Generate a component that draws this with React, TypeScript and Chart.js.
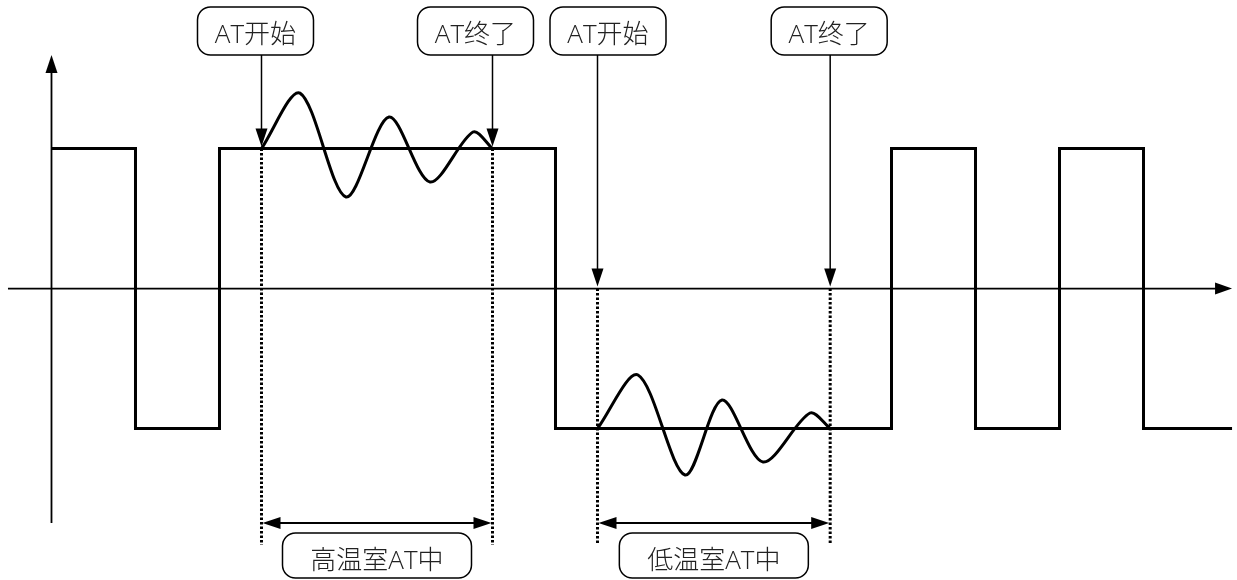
import React, { useEffect, useRef } from "react";
import { Chart, registerables } from "chart.js";

Chart.register(...registerables);

// time axis (one unit = one half-period of the switching wave), level axis (+1 high, -1 low)
const squareT = [0, 1, 2, 6, 10, 11, 12, 13, 14.054];
const squareV = [1, -1, 1, -1, 1, -1, 1, -1, -1];

const highOscT = [2.5, 2.958, 3.506, 4.018, 4.506, 5.018, 5.25];
const highOscV = [1, 1.396, 0.654, 1.225, 0.761, 1.118, 1];

const lowOscT = [6.5, 6.982, 7.542, 7.982, 8.47, 9.03, 9.27];
const lowOscV = [-1, -0.618, -1.332, -0.796, -1.239, -0.889, -1];

const markerT = [2.5, 5.25, 6.5, 9.27];
const markerLevel = [1, 1, 0, 0];
const markerLabels = ["AT开始", "AT终了", "AT开始", "AT终了"];

const spanStart = [2.5, 6.5];
const spanEnd = [5.25, 9.27];
const spanLabels = ["高温室AT中", "低温室AT中"];

const xAxisRange = [-0.518, 14.054];
const yAxisRange = [-1.675, 1.668];
const spanArrowLevel = -1.675;
const dottedBottom = -1.832;

const X_MIN = -0.613;
const X_MAX = 14.113;
const Y_MIN = -2.082;
const Y_MAX = 2.061;

const FONT = '300 26px "Open Sans", "Noto Sans CJK JP", "Noto Sans CJK SC", sans-serif';

function head(ctx: CanvasRenderingContext2D, tx: number, ty: number, ang: number, len: number, hw: number) {
  const bx = tx - len * Math.cos(ang);
  const by = ty - len * Math.sin(ang);
  const nx = -Math.sin(ang) * hw;
  const ny = Math.cos(ang) * hw;
  ctx.beginPath();
  ctx.moveTo(tx, ty);
  ctx.lineTo(bx + nx, by + ny);
  ctx.lineTo(bx - nx, by - ny);
  ctx.closePath();
  ctx.fill();
}

function box(ctx: CanvasRenderingContext2D, left: number, top: number, w: number, h: number, r: number, text: string, baseline: number) {
  ctx.beginPath();
  (ctx as any).roundRect(left, top, w, h, r);
  ctx.fillStyle = "#fff";
  ctx.fill();
  ctx.lineWidth = 1.5;
  ctx.strokeStyle = "#000";
  ctx.stroke();
  ctx.fillStyle = "#222";
  ctx.font = FONT;
  ctx.textAlign = "center";
  ctx.textBaseline = "alphabetic";
  ctx.fillText(text, left + w / 2, baseline);
}

const overlay = {
  id: "overlay",
  afterDatasetsDraw(chart: any) {
    const ctx: CanvasRenderingContext2D = chart.ctx;
    const px = (t: number) => chart.scales.x.getPixelForValue(t);
    const py = (v: number) => chart.scales.y.getPixelForValue(v);
    ctx.save();
    ctx.fillStyle = "#000";
    ctx.strokeStyle = "#000";

    // axis arrowheads
    head(ctx, px(xAxisRange[1]), py(0), 0, 17, 6);
    head(ctx, px(0), py(yAxisRange[1]), -Math.PI / 2, 18, 6);

    // marker boxes and arrows
    const boxOffsets = [-6, -17, 10.5, -1];
    markerT.forEach((t, i) => {
      const ax = px(t);
      const tipY = py(markerLevel[i]) - 2;
      ctx.lineWidth = 1.5;
      ctx.strokeStyle = "#000";
      ctx.beginPath();
      ctx.moveTo(ax, 55);
      ctx.lineTo(ax, tipY - 14);
      ctx.stroke();
      ctx.fillStyle = "#000";
      head(ctx, ax, tipY, Math.PI / 2, 18, 6);
      const w = 116;
      const cx = ax + boxOffsets[i];
      box(ctx, cx - w / 2, 7, w, 48, 13, markerLabels[i], 43);
    });

    // span double arrows and labels
    spanStart.forEach((s, i) => {
      const x1 = px(s);
      const x2 = px(spanEnd[i]);
      const yy = py(spanArrowLevel);
      ctx.lineWidth = 2;
      ctx.strokeStyle = "#000";
      ctx.beginPath();
      ctx.moveTo(x1 + 10, yy);
      ctx.lineTo(x2 - 10, yy);
      ctx.stroke();
      ctx.fillStyle = "#000";
      head(ctx, x1 + 1, yy, Math.PI, 18, 6);
      head(ctx, x2 - 1, yy, 0, 18, 6);
      const w = 189;
      const cx = (x1 + x2) / 2;
      box(ctx, cx - w / 2, 533, w, 45, 13, spanLabels[i], 569);
    });

    ctx.restore();
  },
};

const pts = (ts: number[], vs: number[]) => ts.map((t, i) => ({ x: t, y: vs[i] }));

export default function App() {
  const ref = useRef<HTMLCanvasElement | null>(null);
  useEffect(() => {
    document.body.style.margin = "0";
    const canvas = ref.current;
    if (!canvas) return;
    const dotted = (t: number, top: number) => ({
      data: [
        { x: t, y: top },
        { x: t, y: dottedBottom },
      ],
      borderColor: "#000",
      borderWidth: 3,
      borderDash: [2.5, 2],
      pointRadius: 0,
      fill: false,
    });
    const chart = new Chart(canvas, {
      type: "line",
      data: {
        datasets: [
          {
            label: "switch",
            data: pts(squareT, squareV),
            stepped: true,
            borderColor: "#000",
            borderWidth: 3,
            pointRadius: 0,
            fill: false,
          },
          {
            label: "high AT",
            data: pts(highOscT, highOscV),
            tension: 0.3,
            borderColor: "#000",
            borderWidth: 3,
            pointRadius: 0,
            fill: false,
          },
          {
            label: "low AT",
            data: pts(lowOscT, lowOscV),
            tension: 0.3,
            borderColor: "#000",
            borderWidth: 3,
            pointRadius: 0,
            fill: false,
          },
          {
            label: "x axis",
            data: [
              { x: xAxisRange[0], y: 0 },
              { x: xAxisRange[1] - 0.15, y: 0 },
            ],
            borderColor: "#000",
            borderWidth: 1.8,
            pointRadius: 0,
            fill: false,
          },
          {
            label: "y axis",
            data: [
              { x: 0, y: yAxisRange[0] },
              { x: 0, y: yAxisRange[1] - 0.1 },
            ],
            borderColor: "#000",
            borderWidth: 1.8,
            pointRadius: 0,
            fill: false,
          },
          dotted(markerT[0], markerLevel[0]),
          dotted(markerT[1], markerLevel[1]),
          dotted(markerT[2], markerLevel[2]),
          dotted(markerT[3], markerLevel[3]),
        ] as any,
      },
      options: {
        animation: false,
        responsive: false,
        layout: { padding: 0 },
        plugins: { legend: { display: false }, tooltip: { enabled: false } },
        scales: {
          x: { type: "linear", min: X_MIN, max: X_MAX, display: false },
          y: { type: "linear", min: Y_MIN, max: Y_MAX, display: false },
        },
      },
      plugins: [overlay],
    });
    return () => chart.destroy();
  }, []);
  return (
    <canvas
      ref={ref}
      width={1237}
      height={580}
      style={{ display: "block", position: "fixed", left: 0, top: 0, background: "#fff" }}
    />
  );
}
